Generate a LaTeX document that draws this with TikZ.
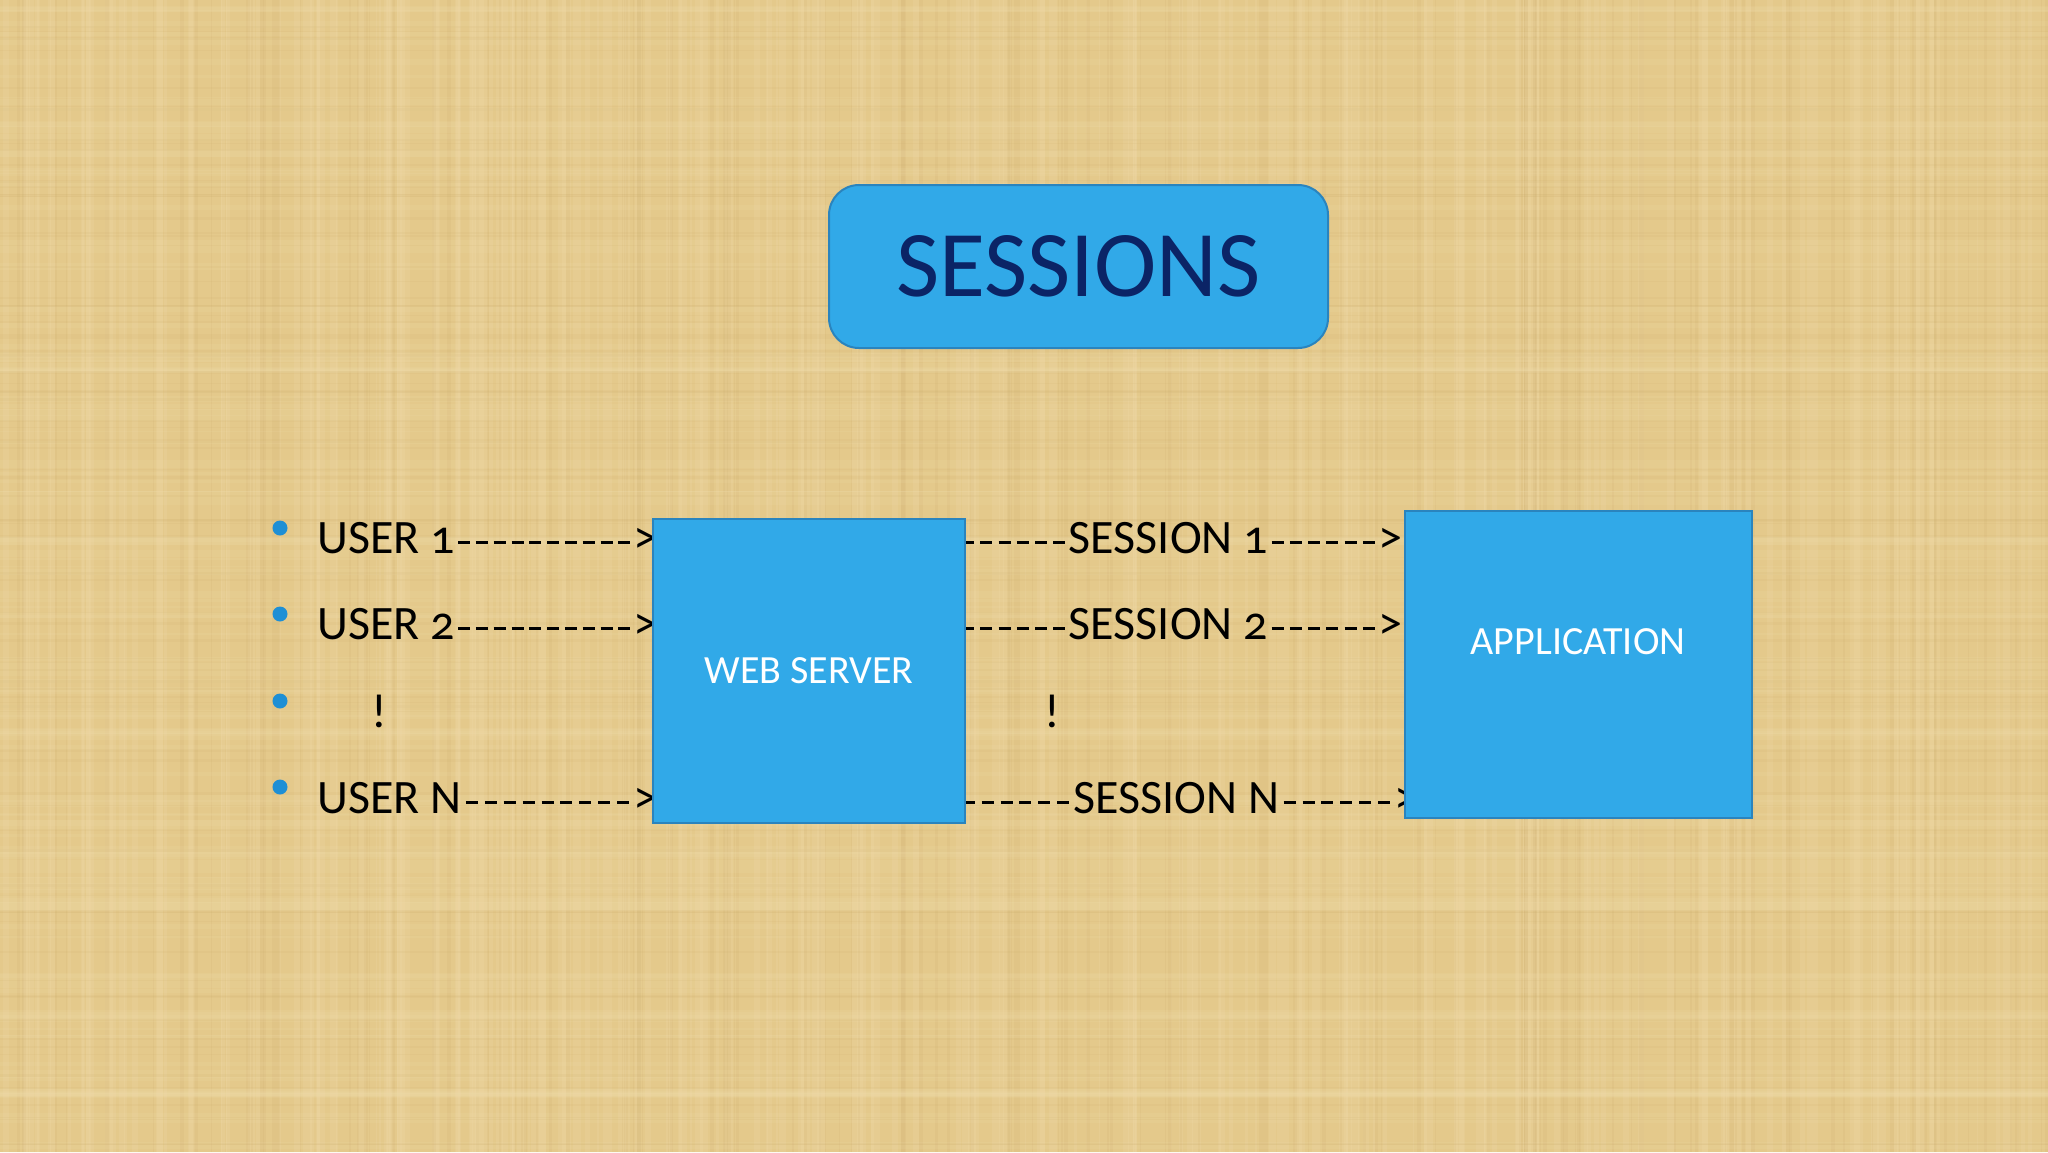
\documentclass[tikz,border=0pt]{standalone}
\usepackage{fontspec}
\setmainfont{Carlito}[Numbers=OldStyle]
\definecolor{paper}{HTML}{E4C98B}
\definecolor{paperlight}{HTML}{F2DFAE}
\definecolor{paperdark}{HTML}{C9A866}
\definecolor{boxblue}{HTML}{31A9E8}
\definecolor{boxedge}{HTML}{2A84BE}
\definecolor{navy}{HTML}{0B2466}
\definecolor{bulletblue}{HTML}{1E8FD5}
\tikzset{
  bluebox/.style={draw=boxedge, line width=1pt, fill=boxblue},
  listtext/.style={font=\fontsize{24}{28}\selectfont, text=black, inner sep=0pt},
  boxlabel/.style={font=\fontsize{20}{24}\selectfont, text=white, inner sep=0pt},
  bulletdot/.style={circle, fill=bulletblue, inner sep=0pt, minimum size=7.5pt},
}
\newcommand{\onedash}{\hbox to 8.6pt{\hss\rule[4.4pt]{6pt}{1.5pt}\hss}}
\newcommand{\dashfill}{\xleaders\onedash\hfill}
\begin{document}
\begin{tikzpicture}[x=0.5pt,y=-0.5pt]
\fill[paper] (0,0) rectangle (2048,1152);
\useasboundingbox (0,0) rectangle (2048,1152);
% parchment texture
\pgfmathsetseed{11}
\foreach \i in {1,...,220}{
  \pgfmathsetmacro\xx{random(0,2048)}
  \pgfmathsetmacro\ww{random(1,9)}
  \fill[paperlight, opacity=0.18] (\xx,0) rectangle ++(\ww,1152);
}
\foreach \i in {1,...,140}{
  \pgfmathsetmacro\xx{random(0,2048)}
  \pgfmathsetmacro\ww{random(1,4)}
  \fill[paperdark, opacity=0.12] (\xx,0) rectangle ++(\ww,1152);
}
\foreach \i in {1,...,140}{
  \pgfmathsetmacro\yy{random(0,1152)}
  \pgfmathsetmacro\hh{random(1,8)}
  \fill[paperlight, opacity=0.14] (0,\yy) rectangle ++(2048,\hh);
}
\foreach \i in {1,...,90}{
  \pgfmathsetmacro\yy{random(0,1152)}
  \pgfmathsetmacro\hh{random(1,3)}
  \fill[paperdark, opacity=0.1] (0,\yy) rectangle ++(2048,\hh);
}

% title
\node[bluebox, rounded corners=15pt, minimum width=249.5pt, minimum height=81.5pt,
      font=\fontsize{47}{50}\selectfont, text=navy] (title) at (1078.5,266.5) {SESSIONS};

% bullets
\node[bulletdot] (b1) at (280,528) {};
\node[bulletdot] (b2) at (280,614) {};
\node[bulletdot] (b3) at (280,701) {};
\node[bulletdot] (b4) at (280,787) {};

% user lines
\node[listtext, anchor=base west] (user1) at (317,553) {\hbox to 170pt{USER 1\dashfill>}};
\node[listtext, anchor=base west] (user2) at (317,639) {\hbox to 170pt{USER 2\dashfill>}};
\node[listtext, anchor=base] (dots1) at (379,727) {!};
\node[listtext, anchor=base west] (userN) at (317,813) {\hbox to 170pt{USER N\dashfill>}};

% session lines
\node[listtext, anchor=base west] (sess1) at (958,553) {\hbox to 222pt{\dashfill SESSION 1\dashfill>}};
\node[listtext, anchor=base west] (sess2) at (958,639) {\hbox to 222pt{\dashfill SESSION 2\dashfill>}};
\node[listtext, anchor=base] (dots2) at (1052,727) {!};
\node[listtext, anchor=base west] (sessN) at (958,813) {\hbox to 230pt{\dashfill SESSION N\dashfill>}};

% boxes
\node[bluebox, minimum width=156pt, minimum height=152pt, inner sep=0pt] (web) at (809,671) {};
\node[boxlabel] (weblabel) at (809,671) {WEB SERVER};
\node[bluebox, minimum width=173.5pt, minimum height=153.5pt, inner sep=0pt] (app) at (1578.5,664.5) {};
\node[boxlabel] (applabel) at (1578,642) {APPLICATION};
\end{tikzpicture}
\end{document}
